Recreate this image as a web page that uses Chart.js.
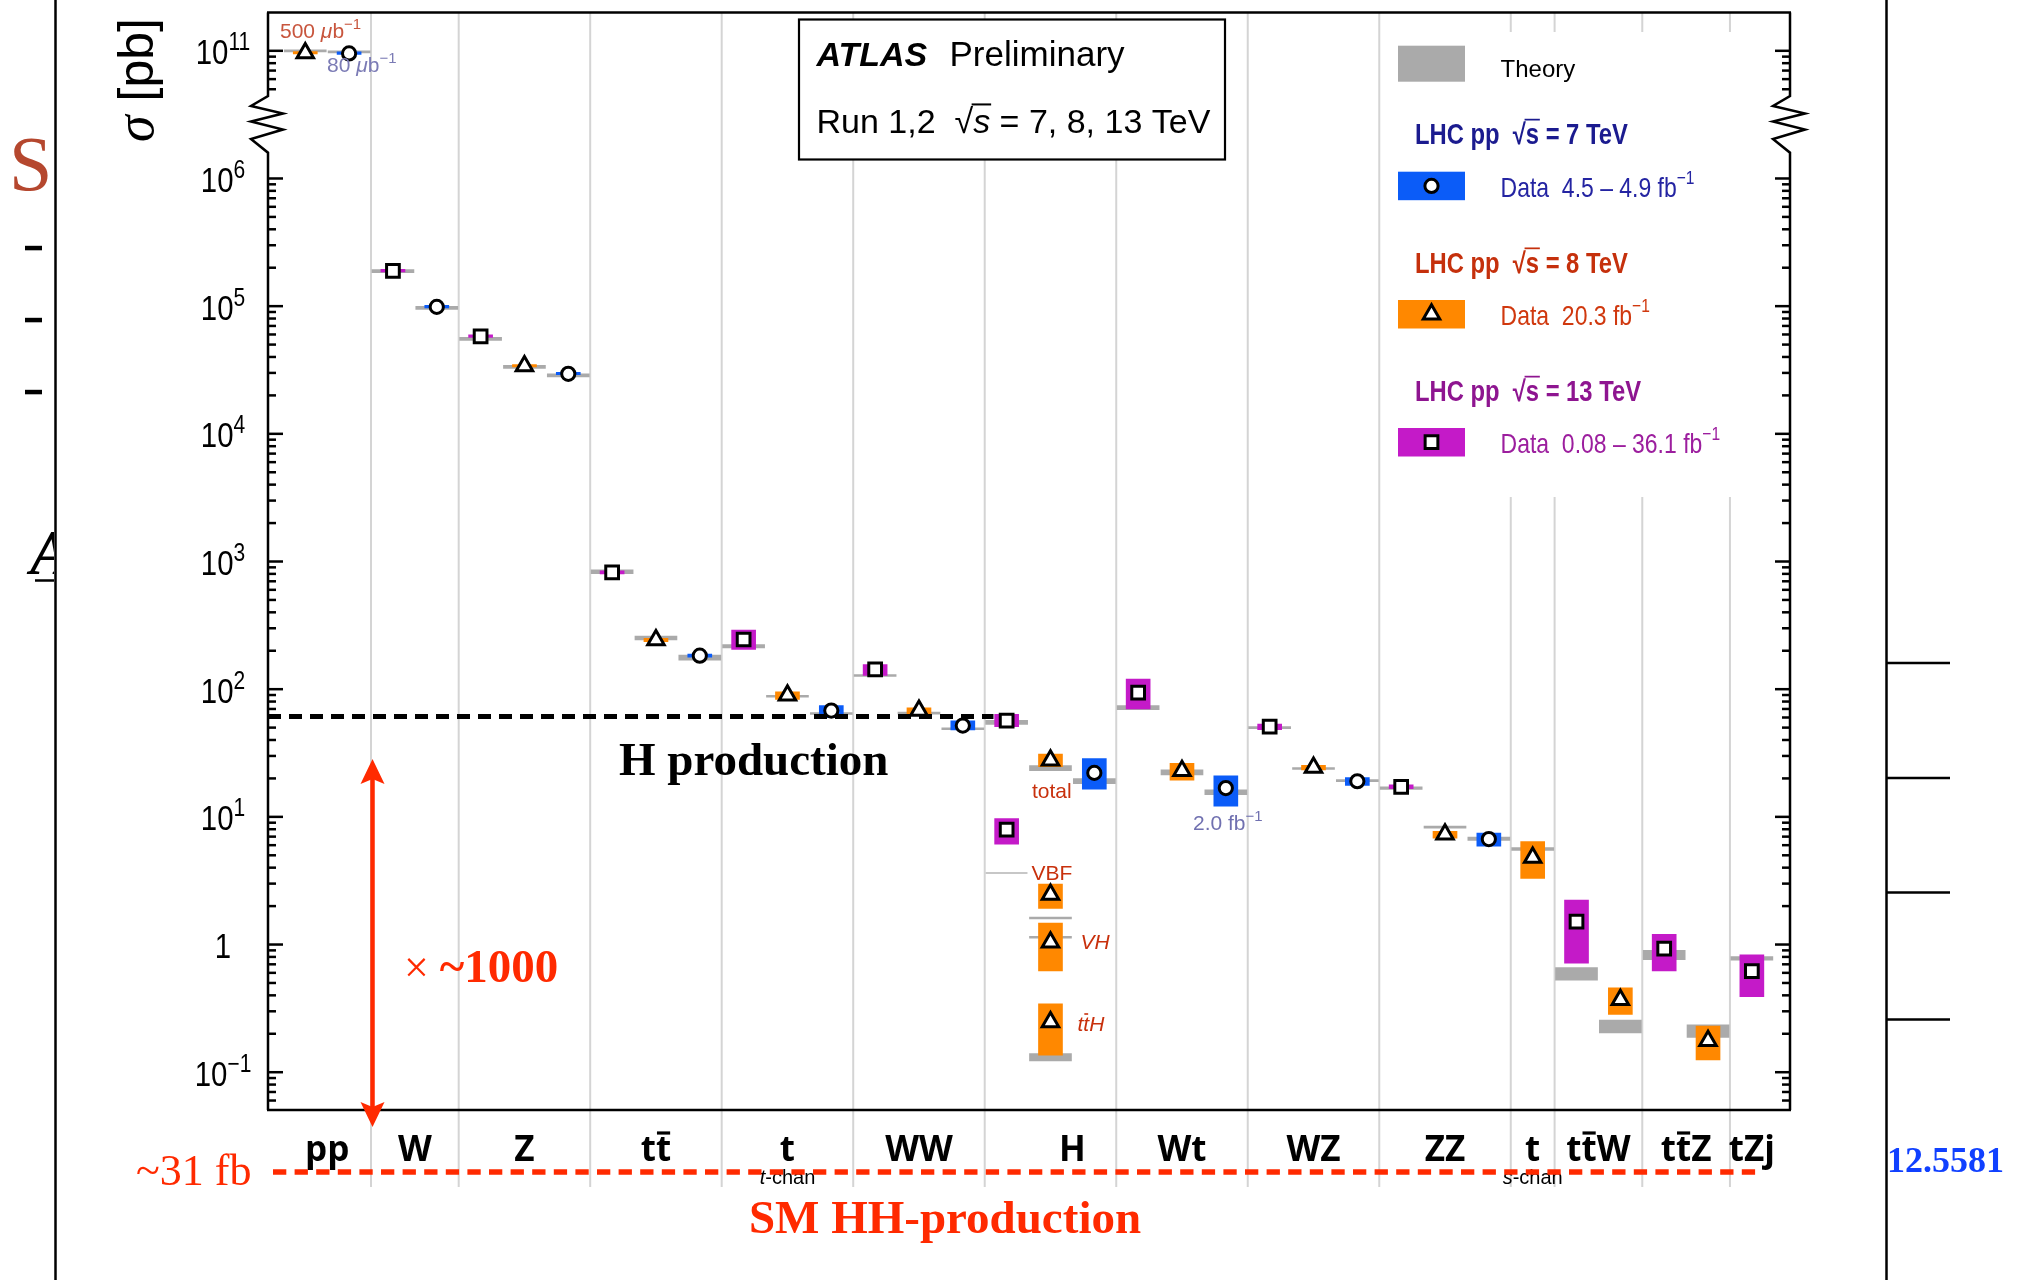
<!DOCTYPE html>
<html><head><meta charset="utf-8">
<script src="https://cdn.jsdelivr.net/npm/chart.js@4.4.0/dist/chart.umd.min.js"></script>
<style>html,body{margin:0;padding:0;background:#fff;}canvas{display:block;}</style>
</head><body>
<canvas id="c" width="2028" height="1280"></canvas>
<script>
// ================= DATA =================
const categories    = ['pp','W','Z','tt\u0304','t','WW','H','Wt','WZ','ZZ','t','tt\u0304W','tt\u0304Z','tZj'];
const categorySlots = [2, 2, 3, 3, 3, 3, 3, 3, 3, 3, 1, 2, 2, 1];
const subLabels     = ['', '', '', '', 't-chan', '', '', '', '', '', 's-chan', '', '', ''];

// sqrt(s) = 7 TeV  (sigma in pb)
const slot7   = [1, 3, 6, 9, 12, 15, 18, 21, 24, 27];
const sigma7  = [9.535e10, 9.87e4, 2.95e4, 182.9, 68, 51.9, 22.1, 16.8, 19.0, 6.7];
const lo7     = [9.37e10, 9.70e4, 2.90e4, 178, 59.9, 47.9, 16.5, 12.1, 17.6, 5.9];
const hi7     = [9.70e10, 1.005e5, 3.00e4, 188, 74.5, 56.4, 28.6, 21.0, 20.3, 7.46];
const th7     = [9.8e10, 9.7e4, 2.87e4, 177, 64.5, 49, 19, 15.6, 19.2, 6.75];
const thLo7   = [9.62e10, 9.44e4, 2.79e4, 169, 63.3, 48.1, 18.2, 14.9, 18.9, 6.55];
const thHi7   = [9.98e10, 9.96e4, 2.95e4, 185, 65.7, 49.9, 19.9, 16.3, 19.5, 6.95];

// sqrt(s) = 8 TeV
const slot8   = [0, 5, 8, 11, 14, 17, 20, 23, 26, 28, 30, 32];
const sigma8  = [9.607e10, 3.40e4, 242.9, 89.6, 68.2, 27.7, 23.0, 24.3, 7.3, 4.8, 0.369, 0.176];
const lo8     = [9.44e10, 3.34e4, 236, 83, 62.4, 24.7, 19.4, 23.3, 6.8, 3.3, 0.283, 0.125];
const hi8     = [9.77e10, 3.46e4, 250, 95.5, 71.6, 31.0, 26.2, 25.3, 7.7, 6.4, 0.457, 0.23];
const th8     = [1.0e11, 3.35e4, 252, 88, 65, 24.1, 22.3, 23.9, 8.3, 5.6, 0.23, 0.21];
const thLo8   = [9.82e10, 3.26e4, 243, 86.4, 63.8, 23.0, 21.3, 23.5, 8.15, 5.45, 0.203, 0.187];
const thHi8   = [1.018e11, 3.44e4, 261, 89.6, 66.2, 25.2, 23.3, 24.3, 8.45, 5.75, 0.256, 0.235];

// Higgs production modes at 8 TeV (drawn in the H column)
const hModes      = ['VBF', 'VH', 'tt\u0304H'];
const hModeSlot   = [17, 17, 17];
const hModeSigma  = [2.46, 1.04, 0.247];
const hModeLo     = [1.92, 0.62, 0.136];
const hModeHi     = [2.98, 1.47, 0.343];
const hModeTh     = [1.6, 1.13, 0.129];
const hModeThLo   = [1.585, 1.12, 0.1225];
const hModeThHi   = [1.615, 1.14, 0.14];

// sqrt(s) = 13 TeV
const slot13  = [2, 4, 7, 10, 13, 16, 16, 19, 22, 25, 29, 31, 33];
const sigma13 = [1.89e5, 5.8e4, 822, 245, 143, 56.7, 7.94, 94, 51.0, 17.2, 1.51, 0.93, 0.62];
const lo13    = [1.855e5, 5.7e4, 800, 205, 128, 50.8, 6.1, 70, 48.1, 16.6, 0.715, 0.62, 0.39];
const hi13    = [1.925e5, 5.9e4, 846, 290, 156, 63.5, 9.7, 120, 53.3, 17.8, 2.23, 1.2, 0.83];
const th13    = [1.88e5, 5.55e4, 832, 217, 128, 55, null, 71.7, 50, 16.8, 0.59, 0.83, 0.78];
const thLo13  = [1.83e5, 5.40e4, 803, 210, 125.7, 53, null, 69.2, 49.1, 16.4, 0.527, 0.76, 0.755];
const thHi13  = [1.93e5, 5.70e4, 862, 224, 130.3, 57, null, 74.3, 50.9, 17.2, 0.66, 0.90, 0.805];

// reference lines
const hProductionSigma = 61;     // pb, dashed "H production" level
const hProductionEndSlot = 16.2;

// y axis
const yTickValues = [1e-1, 1, 1e1, 1e2, 1e3, 1e4, 1e5, 1e6, 1e11];
const yTickBase   = ['10', '1', '10', '10', '10', '10', '10', '10', '10'];
const yTickExp    = ['\u22121', '', '1', '2', '3', '4', '5', '6', '11'];
const BREAK_MIN = 1e8;     // values above this are drawn on the upper (compressed) segment
const BREAK_SHIFT = 4;     // decades removed by the axis break
const yMinU = -1.296, yMaxU = 7.30;
const breakTopU = 6.646, breakBotU = 6.202;

// ================= HELPERS =================
function u(s) { return s >= BREAK_MIN ? Math.log10(s) - BREAK_SHIFT : Math.log10(s); }
const SERIF = '"Liberation Serif","Times New Roman",serif';
const SANS  = '"Liberation Sans",Arial,Helvetica,sans-serif';
const CATF  = '"Open Sans","Liberation Sans",sans-serif';
function F(size, fam, weight, style) { return (style || 'normal') + ' ' + (weight || 'normal') + ' ' + size + 'px ' + fam; }

const C7 = '#0b5cf8', C8 = '#ff8800', C13 = '#c41ac8', CTH = '#aaaaaa';
const RED = '#ff2a00';

function rich(ctx, segs, x, y, opt) {
  opt = opt || {};
  const sx = opt.sx || 1;
  ctx.save();
  ctx.textBaseline = 'alphabetic';
  ctx.textAlign = 'left';
  const ws = segs.map(s => { ctx.font = s.f; return ctx.measureText(s.t).width + (s.gap || 0); });
  const total = ws.reduce((a, b) => a + b, 0) * sx;
  let x0 = x;
  if (opt.align === 'center') x0 = x - total / 2;
  else if (opt.align === 'right') x0 = x - total;
  ctx.translate(x0, y);
  ctx.scale(sx, 1);
  let cx = 0;
  segs.forEach((s, i) => {
    ctx.font = s.f;
    const col = s.c || opt.c || '#000';
    ctx.fillStyle = col;
    ctx.fillText(s.t, cx, s.dy || 0);
    if (s.bar) {
      const w = ws[i] - (s.gap || 0);
      ctx.strokeStyle = col;
      ctx.lineWidth = s.bar.lw;
      ctx.beginPath();
      ctx.moveTo(cx + (s.bar.x0 || 0), (s.dy || 0) - s.bar.y);
      ctx.lineTo(cx + w + (s.bar.x1 || 0), (s.dy || 0) - s.bar.y);
      ctx.stroke();
    }
    cx += ws[i];
  });
  ctx.restore();
  return total;
}
function macronSegs(str, f, c, barY, lw) {
  const segs = []; let buf = '';
  const ch = Array.from(str);
  for (let i = 0; i < ch.length; i++) {
    if (ch[i + 1] === '\u0304') {
      if (buf) segs.push({ t: buf, f, c });
      buf = '';
      segs.push({ t: ch[i], f, c, bar: { y: barY, lw: lw, x0: 1, x1: -1 } });
      i++;
    } else buf += ch[i];
  }
  if (buf) segs.push({ t: buf, f, c });
  return segs;
}
function sqrtSegs(size, f, fs, c) {
  return [{ t: '\u221A', f: f, c: c }, { t: 's', f: fs, c: c, bar: { y: size * 0.84, lw: size * 0.06, x0: -1.5, x1: 1 } }];
}
const MK = { circle: 6.6, triangle: 9.5, rect: 9, bw: 3 };
function marker(ctx, style, x, y) {
  ctx.save();
  ctx.fillStyle = '#fff'; ctx.strokeStyle = '#000'; ctx.lineWidth = MK.bw;
  ctx.beginPath();
  if (style === 'circle') ctx.arc(x, y, MK.circle, 0, Math.PI * 2);
  else if (style === 'triangle') { const r = MK.triangle; ctx.moveTo(x, y - r); ctx.lineTo(x + r * 0.866, y + r / 2); ctx.lineTo(x - r * 0.866, y + r / 2); ctx.closePath(); }
  else { const h = MK.rect * Math.SQRT1_2; ctx.rect(x - h, y - h, 2 * h, 2 * h); }
  ctx.fill(); ctx.stroke();
  ctx.restore();
}

// category boundaries
const boundaries = [];
const catCenters = [];
(function () {
  let acc = 0;
  categorySlots.forEach((n, i) => {
    catCenters.push(acc + n / 2);
    acc += n;
    if (i < categorySlots.length - 1) boundaries.push(acc);
  });
})();

function barData(slots, lo, hi) {
  const out = [];
  slots.forEach((s, i) => { if (lo[i] != null) out.push({ x: s + 0.5, y: [u(lo[i]), u(hi[i])] }); });
  return out;
}
function ptData(slots, v) { return slots.map((s, i) => ({ x: s + 0.5, y: u(v[i]) })); }

const datasets = [
  { type: 'bar', data: barData(slot7, thLo7, thHi7), backgroundColor: CTH, barThickness: 42, minBarLength: 2, grouped: false, order: 6 },
  { type: 'bar', data: barData(slot8, thLo8, thHi8).concat(barData(hModeSlot, hModeThLo, hModeThHi)), backgroundColor: CTH, barThickness: 42, minBarLength: 2, grouped: false, order: 6 },
  { type: 'bar', data: barData(slot13, thLo13, thHi13), backgroundColor: CTH, barThickness: 42, minBarLength: 2, grouped: false, order: 6 },
  { type: 'bar', data: barData(slot7, lo7, hi7), backgroundColor: C7, barThickness: 24, minBarLength: 2.5, grouped: false, order: 4 },
  { type: 'bar', data: barData(slot8, lo8, hi8).concat(barData(hModeSlot, hModeLo, hModeHi)), backgroundColor: C8, barThickness: 24, minBarLength: 2.5, grouped: false, order: 4 },
  { type: 'bar', data: barData(slot13, lo13, hi13), backgroundColor: C13, barThickness: 24, minBarLength: 2.5, grouped: false, order: 4 },
  { type: 'line', data: [{ x: -0.35, y: u(hProductionSigma) }, { x: hProductionEndSlot, y: u(hProductionSigma) }],
    borderColor: '#000', borderWidth: 5, borderDash: [13, 8], pointRadius: 0, fill: false, order: 3 },
  { type: 'scatter', data: ptData(slot7, sigma7), pointStyle: 'circle', pointRadius: MK.circle, pointBackgroundColor: '#fff', pointBorderColor: '#000', pointBorderWidth: MK.bw, order: 1 },
  { type: 'scatter', data: ptData(slot8, sigma8).concat(ptData(hModeSlot, hModeSigma)), pointStyle: 'triangle', pointRadius: MK.triangle, pointBackgroundColor: '#fff', pointBorderColor: '#000', pointBorderWidth: MK.bw, order: 1 },
  { type: 'scatter', data: ptData(slot13, sigma13), pointStyle: 'rect', pointRadius: MK.rect, pointBackgroundColor: '#fff', pointBorderColor: '#000', pointBorderWidth: MK.bw, order: 1 }
];

// ================= DECORATION PLUGIN =================
const decor = {
  id: 'decor',
  beforeDraw(chart) {
    const ctx = chart.ctx;
    ctx.save(); ctx.fillStyle = '#fff'; ctx.fillRect(0, 0, chart.width, chart.height); ctx.restore();
  },
  beforeDatasetsDraw(chart) {
    const ctx = chart.ctx, a = chart.chartArea, xs = chart.scales.x;
    ctx.save();
    ctx.strokeStyle = '#d4d4d4'; ctx.lineWidth = 2;
    boundaries.forEach(b => {
      const px = xs.getPixelForValue(b);
      ctx.beginPath(); ctx.moveTo(px, a.top); ctx.lineTo(px, a.bottom + 77); ctx.stroke();
    });
    ctx.fillStyle = '#fff'; ctx.fillRect(799, 19.5, 426, 140);
    ctx.strokeStyle = '#000'; ctx.lineWidth = 2.2; ctx.strokeRect(799, 19.5, 426, 140);
    const lb = xs.getPixelForValue(boundaries[8]) + 2;
    ctx.fillStyle = '#fff'; ctx.fillRect(lb, 32, a.right - lb - 1, 465);
    ctx.restore();
  },
  afterDatasetsDraw(chart) {
    const ctx = chart.ctx, a = chart.chartArea, xs = chart.scales.x, ys = chart.scales.y;
    const Yu = v => ys.getPixelForValue(v);
    ctx.save();
    // ---- frame with axis breaks ----
    ctx.strokeStyle = '#000'; ctx.lineWidth = 2.5; ctx.lineJoin = 'miter';
    const yT = Yu(breakTopU), yB = Yu(breakBotU);
    const zz = [[-17, 10], [15, 17.5], [-17, 25.5], [15, 33.5], [-17, 43]];
    [a.left, a.right].forEach(x => {
      ctx.beginPath(); ctx.moveTo(x, a.top); ctx.lineTo(x, yT);
      zz.forEach(p => ctx.lineTo(x + p[0], yT + p[1]));
      ctx.lineTo(x, yB); ctx.lineTo(x, a.bottom); ctx.stroke();
    });
    ctx.beginPath(); ctx.moveTo(a.left - 1, a.top); ctx.lineTo(a.right + 1, a.top); ctx.stroke();
    ctx.beginPath(); ctx.moveTo(a.left - 1, a.bottom); ctx.lineTo(a.right + 1, a.bottom); ctx.stroke();
    // ---- ticks ----
    const tick = (uv, len) => {
      const py = Yu(uv);
      ctx.beginPath(); ctx.moveTo(a.left, py); ctx.lineTo(a.left + len, py); ctx.stroke();
      ctx.beginPath(); ctx.moveTo(a.right, py); ctx.lineTo(a.right - len, py); ctx.stroke();
    };
    yTickValues.forEach(v => tick(u(v), 15));
    for (let d = -2; d <= 5; d++) for (let m = 2; m <= 9; m++) {
      const uv = Math.log10(m) + d;
      if (uv > yMinU && uv < breakBotU) tick(uv, 8);
    }
    for (let m = 2; m <= 9; m++) {
      const uv = Math.log10(m * 1e10) - BREAK_SHIFT;
      if (uv > breakTopU && uv < yMaxU) tick(uv, 8);
    }
    // ---- tick labels ----
    yTickValues.forEach((v, i) => {
      const py = Yu(u(v));
      const segs = [{ t: yTickBase[i], f: F(35, SANS) }];
      if (yTickExp[i]) segs.push({ t: yTickExp[i], f: F(25, SANS), dy: -14 });
      rich(ctx, segs, 223, py + 13.5, { align: 'center', sx: 0.84 });
    });
    // ---- y title ----
    ctx.save();
    ctx.translate(153, 18); ctx.rotate(-Math.PI / 2);
    rich(ctx, [{ t: '\u03C3', f: F(54, SERIF, 'normal', 'italic') }, { t: ' [pb]', f: F(50, SANS) }], 0, 0, { align: 'right' });
    ctx.restore();
    // ---- category labels ----
    categories.forEach((c, i) => {
      const shift = (c === 'H') ? 0.5 : 0;
      const px = xs.getPixelForValue(catCenters[i] + shift);
      rich(ctx, macronSegs(c, F(35, CATF, 'bold'), '#000', 28, 3.2), px, 1161, { align: 'center' });
      if (subLabels[i]) {
        const parts = subLabels[i].split('-');
        rich(ctx, [{ t: parts[0], f: F(20, SANS, 'normal', 'italic') }, { t: '-' + parts[1], f: F(20, SANS) }], px, 1184, { align: 'center' });
      }
    });
    // ---- red HH line, arrow, texts ----
    ctx.strokeStyle = RED; ctx.lineWidth = 5.5; ctx.setLineDash([13.3, 8.3]);
    ctx.beginPath(); ctx.moveTo(a.left + 5, a.bottom + 62); ctx.lineTo(1757, a.bottom + 62); ctx.stroke();
    ctx.setLineDash([]);
    const ax = xs.getPixelForValue(boundaries[0]) + 1.5;
    const aTop = 759, aBot = a.bottom + 17;
    ctx.lineWidth = 4.5;
    ctx.beginPath(); ctx.moveTo(ax, aTop + 20); ctx.lineTo(ax, aBot - 20); ctx.stroke();
    ctx.fillStyle = RED;
    ctx.beginPath(); ctx.moveTo(ax, aTop); ctx.lineTo(ax + 12, aTop + 25); ctx.lineTo(ax, aTop + 20); ctx.lineTo(ax - 12, aTop + 25); ctx.closePath(); ctx.fill();
    ctx.beginPath(); ctx.moveTo(ax, aBot); ctx.lineTo(ax + 12, aBot - 25); ctx.lineTo(ax, aBot - 20); ctx.lineTo(ax - 12, aBot - 25); ctx.closePath(); ctx.fill();
    rich(ctx, [{ t: '\u00D7 ', f: F(44, SERIF) }, { t: '~1000', f: F(47, SERIF, 'bold') }], 404, 982, { c: RED });
    rich(ctx, [{ t: '~31 fb', f: F(44, SERIF) }], 136, 1185, { c: RED });
    rich(ctx, [{ t: 'SM HH-production', f: F(47, SERIF, 'bold') }], 945, 1233, { c: RED, align: 'center' });
    rich(ctx, [{ t: 'H production', f: F(47, SERIF, 'bold') }], 619, 775, { c: '#000' });
    // ---- small annotations ----
    const sf = F(21, SANS), sfi = F(21, SANS, 'normal', 'italic'), sup = F(15, SANS);
    rich(ctx, [{ t: '500 ', f: sf }, { t: '\u03BC', f: sfi }, { t: 'b', f: sf }, { t: '\u22121', f: sup, dy: -9 }], 280, 38, { c: '#c8553d' });
    rich(ctx, [{ t: '80 ', f: sf }, { t: '\u03BC', f: sfi }, { t: 'b', f: sf }, { t: '\u22121', f: sup, dy: -9 }], 327, 72, { c: '#7b7bb5' });
    rich(ctx, [{ t: 'total', f: sf }], 1032, 798, { c: '#c8300c' });
    rich(ctx, [{ t: '2.0 fb', f: sf }, { t: '\u22121', f: sup, dy: -9 }], 1193, 830, { c: '#7070b0' });
    const hx = xs.getPixelForValue(hModeSlot[0] + 0.5);
    rich(ctx, [{ t: hModes[0], f: sf }], hx - 19, 880, { c: '#c8300c' });
    rich(ctx, [{ t: hModes[1], f: sfi }], hx + 30, 949, { c: '#c8300c' });
    rich(ctx, macronSegs(hModes[2], sfi, '#c8300c', 17, 1.6), hx + 27, 1031, {});
    ctx.strokeStyle = '#b4b4b4'; ctx.lineWidth = 1.5;
    ctx.beginPath(); ctx.moveTo(xs.getPixelForValue(boundaries[5]) + 1, 873); ctx.lineTo(hx - 23, 873); ctx.stroke();
    // ---- ATLAS label ----
    rich(ctx, [{ t: 'ATLAS', f: F(34, SANS, 'bold', 'italic') }], 816.5, 66, {});
    rich(ctx, [{ t: 'Preliminary', f: F(35, SANS) }], 949.5, 66, {});
    rich(ctx, [{ t: 'Run 1,2  ', f: F(34, SANS) }].concat(sqrtSegs(34, F(34, SANS), F(34, SANS, 'normal', 'italic'), '#000'))
      .concat([{ t: ' = 7, 8, 13 TeV', f: F(34, SANS) }]), 816.5, 133, {});
    // ---- legend ----
    const lx = 1398, lw = 67;
    ctx.fillStyle = CTH; ctx.fillRect(lx, 45.7, lw, 36);
    rich(ctx, [{ t: 'Theory', f: F(24, SANS) }], 1500.6, 77, {});
    const rows = [
      { c: '#1b1b8f', dc: '#2424a2', box: C7, y0: 144, by: 171.7, mk: 'circle', e: '7', lum: '4.5 \u2013 4.9 fb' },
      { c: '#c5300c', dc: '#d0380e', box: C8, y0: 272.7, by: 300, mk: 'triangle', e: '8', lum: '20.3 fb' },
      { c: '#8e1590', dc: '#9c1e9e', box: C13, y0: 401, by: 428, mk: 'rect', e: '13', lum: '0.08 \u2013 36.1 fb' }
    ];
    rows.forEach(r => {
      const bf = F(29, SANS, 'bold');
      rich(ctx, [{ t: 'LHC pp  ', f: bf }].concat(sqrtSegs(29, bf, bf, r.c)).concat([{ t: ' = ' + r.e + ' TeV', f: bf }]), 1415, r.y0, { c: r.c, sx: 0.82 });
      ctx.fillStyle = r.box; ctx.fillRect(lx, r.by, lw, 28.5);
      marker(ctx, r.mk, lx + lw / 2, r.by + 14.2);
      rich(ctx, [{ t: 'Data  ' + r.lum, f: F(28, SANS) }, { t: '\u22121', f: F(19, SANS), dy: -13 }], 1500.6, r.by + 25, { c: r.dc, sx: 0.82 });
    });
    ctx.restore();
  },
  afterDraw(chart) {
    const ctx = chart.ctx;
    ctx.save();
    ctx.strokeStyle = '#000'; ctx.lineWidth = 2.5;
    ctx.beginPath(); ctx.moveTo(55.5, 0); ctx.lineTo(55.5, 1280); ctx.stroke();
    ctx.fillStyle = '#000';
    [248, 320, 392].forEach(y => ctx.fillRect(25, y - 2.2, 17, 4.5));
    ctx.save();
    ctx.beginPath(); ctx.rect(0, 0, 54, 1280); ctx.clip();
    rich(ctx, [{ t: 'S', f: F(78, SERIF) }], 9, 190, { c: '#b5472e' });
    rich(ctx, [{ t: 'A', f: F(64, SERIF, 'bold', 'italic') }], 30, 574, { c: '#000' });
    ctx.lineWidth = 2.5; ctx.beginPath(); ctx.moveTo(35, 580.5); ctx.lineTo(55, 580.5); ctx.stroke();
    ctx.restore();
    ctx.lineWidth = 2.5;
    ctx.beginPath(); ctx.moveTo(1886.5, 0); ctx.lineTo(1886.5, 1280); ctx.stroke();
    [663, 778, 892.5, 1019.5].forEach(y => { ctx.beginPath(); ctx.moveTo(1886, y); ctx.lineTo(1950, y); ctx.stroke(); });
    rich(ctx, [{ t: '12.5581', f: F(36, SERIF, 'bold') }], 1887, 1172, { c: '#1040ff' });
    ctx.restore();
  }
};

new Chart(document.getElementById('c').getContext('2d'), {
  type: 'bar',
  data: { datasets: datasets },
  options: {
    responsive: false,
    animation: false,
    devicePixelRatio: 1,
    events: [],
    layout: { padding: { left: 268, right: 238, top: 6, bottom: 170 } },
    plugins: { legend: { display: false }, tooltip: { enabled: false } },
    scales: {
      x: { type: 'linear', min: -0.35, max: 34.37, display: false, offset: false },
      y: { type: 'linear', min: yMinU, max: yMaxU, display: false }
    }
  },
  plugins: [decor]
});
</script>
</body></html>
